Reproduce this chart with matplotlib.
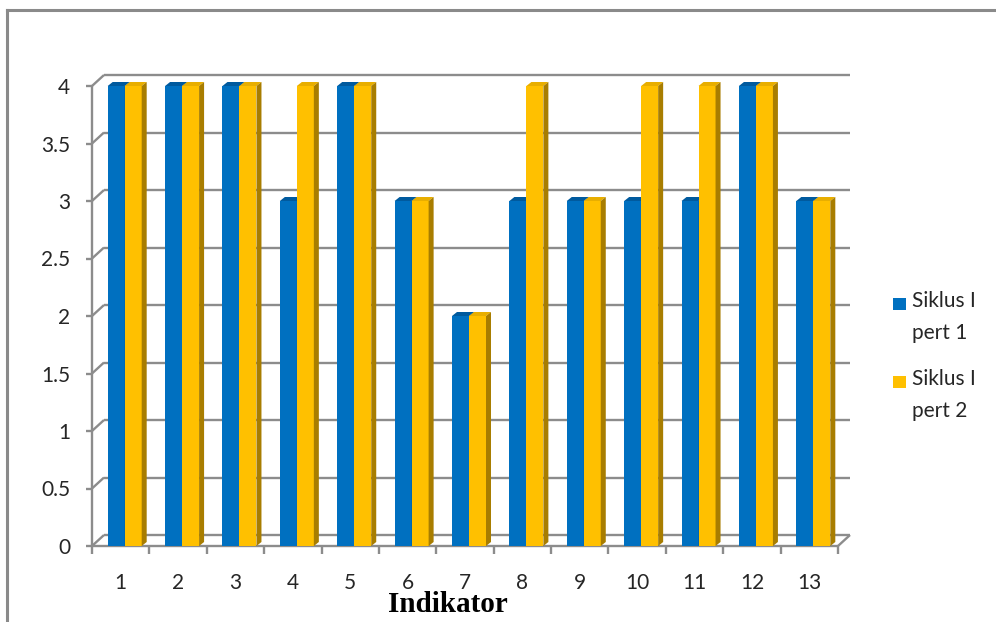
import matplotlib

matplotlib.use('Agg')
import matplotlib.pyplot as plt
from matplotlib.patches import Polygon, Rectangle
from matplotlib.lines import Line2D

categories = [str(i) for i in range(1, 14)]
series_names = ['Siklus I\npert 1', 'Siklus I\npert 2']
pert1 = [4, 4, 4, 3, 4, 3, 2, 3, 3, 3, 3, 4, 3]
pert2 = [4, 4, 4, 4, 4, 3, 2, 4, 3, 4, 4, 4, 3]
y_ticks = [0, 0.5, 1, 1.5, 2, 2.5, 3, 3.5, 4]
y_labels = ['0', '0.5', '1', '1.5', '2', '2.5', '3', '3.5', '4']
x_title = 'Indikator'

BLUE, BLUE_TOP = '#0070C0', '#005A9E'
GOLD, GOLD_TOP, GOLD_SIDE = '#FFC000', '#E8AE00', '#A87D00'
GRID = '#8C8C8C'
TEXT = '#262626'
FONT = 'Lato'

W, H = 996, 622
fig = plt.figure(figsize=(W / 100, H / 100), dpi=100)
fig.patch.set_facecolor('white')


def fx(px):
    return px / W


def fy(py):
    return 1 - py / H


# outer chart frame (only top and left edges are visible)
fig.add_artist(Line2D([fx(7), 1], [fy(9.5), fy(9.5)], color='#8A8A8A', lw=2.2))
fig.add_artist(Line2D([fx(7), fx(7)], [fy(9.5), 0], color='#8A8A8A', lw=2.2))

ax = fig.add_axes([fx(92), fy(546), fx(838) - fx(92), fy(86) - fy(546)])
ax.set_xlim(0.5, 13.5)
ax.set_ylim(0, 4)
ax.axis('off')

n = len(categories)
cat_px = (838 - 92) / n
val_px = (546 - 86) / 4
DX, DY = 12 / cat_px, 11 / val_px          # wall depth
BDX, BDY = 5 / cat_px, 4 / val_px          # bar depth
BW = 17 / cat_px
SHIFT = 4 / cat_px

grid_kw = dict(color=GRID, lw=1.7, clip_on=False, solid_capstyle='butt')

# back wall gridlines and side-wall diagonals
for v in y_ticks:
    ax.plot([0.5 + DX, n + 0.5 + DX], [v + DY, v + DY], **grid_kw)
    ax.plot([0.5, 0.5 + DX], [v, v + DY], **grid_kw)
    ax.plot([0.5 - 0.1, 0.5], [v, v], **grid_kw)

# floor front edge, value axis and category ticks
ax.plot([0.5, n + 0.5], [0, 0], **grid_kw)
ax.plot([n + 0.5, n + 0.5 + DX], [0, DY], **grid_kw)
ax.plot([0.5, 0.5], [0, 4], **grid_kw)
for b in range(n + 1):
    ax.plot([b + 0.5, b + 0.5], [0, -0.07], **grid_kw)

# 3D-look clustered columns
xs = list(range(1, n + 1))
for i, x in enumerate(xs):
    for j, (vals, front, top, side) in enumerate([
        (pert1, BLUE, BLUE_TOP, BLUE_TOP),
        (pert2, GOLD, GOLD_TOP, GOLD_SIDE),
    ]):
        left = x + SHIFT - BW + j * BW
        v = vals[i]
        ax.bar(left, v, width=BW, align='edge', color=front, lw=0,
               clip_on=False, zorder=3 + i * 2 + j)
        ax.add_patch(Polygon([(left, v), (left + BDX, v + BDY),
                              (left + BW + BDX, v + BDY), (left + BW, v)],
                             closed=True, fc=top, lw=0, clip_on=False,
                             zorder=3 + i * 2 + j))
        ax.add_patch(Polygon([(left + BW, 0), (left + BW + BDX, BDY),
                              (left + BW + BDX, v + BDY), (left + BW, v)],
                             closed=True, fc=side, lw=0, clip_on=False,
                             zorder=3 + i * 2 + j))

# tick labels
for v, lab in zip(y_ticks, y_labels):
    ax.annotate(lab, (0.5, v), xytext=(-22, -2), textcoords='offset pixels',
                ha='right', va='center', fontsize=15, family=FONT,
                color=TEXT, annotation_clip=False)
for x, lab in zip(xs, categories):
    ax.annotate(lab, (x, 0), xytext=(0, -37), textcoords='offset pixels',
                ha='center', va='center', fontsize=15, family=FONT,
                color=TEXT, annotation_clip=False)

fig.text(fx(448), fy(605), x_title, ha='center', va='center', fontsize=21,
         family='Liberation Serif', weight='bold', color='black')

# legend
for k, (name, col) in enumerate(zip(series_names, [BLUE, GOLD])):
    y0 = 298 + k * 78
    fig.add_artist(Rectangle((fx(893), fy(y0 + 12)), 13 / W, 12 / H,
                             fc=col, lw=0))
    fig.text(fx(912), fy(y0 - 7), name, ha='left', va='top', fontsize=15,
             family=FONT, color=TEXT, linespacing=1.75)

fig.savefig('out.png', dpi=100, facecolor='white')
